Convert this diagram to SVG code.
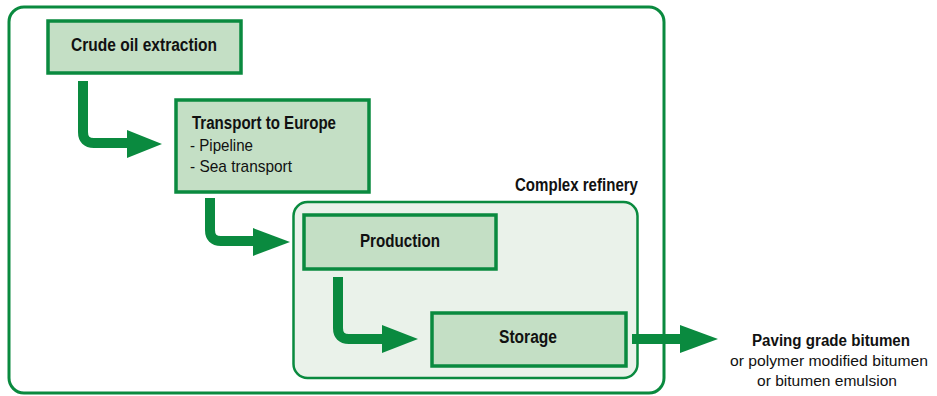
<svg xmlns="http://www.w3.org/2000/svg" width="937" height="396" viewBox="0 0 937 396">
<style>
text{font-family:"Liberation Sans",Arial,sans-serif;fill:#111;font-size:17px}
.b{font-weight:bold;font-size:18px}
.p{font-size:15.5px}
.pb{font-weight:bold;font-size:16px}
.box{fill:#c4dfc5;stroke:#0a8a3f;stroke-width:3.5}
.conn{fill:none;stroke:#0a8a3f;stroke-width:10}
.head{fill:#0a8a3f}
</style>
<rect width="937" height="396" fill="#fff"/>
<g id="frame"><rect x="9" y="7" width="655" height="386" rx="15" fill="none" stroke="#0a8a3f" stroke-width="3"/></g>
<g id="refinery"><rect x="293.5" y="202" width="344" height="176" rx="14" fill="#eaf2ea" stroke="#0a8a3f" stroke-width="2.5"/>
<text class="b" x="515" y="191" textLength="123" lengthAdjust="spacingAndGlyphs">Complex refinery</text></g>
<g id="crude"><rect class="box" x="48" y="21" width="193" height="52"/><text class="b" x="71" y="51" textLength="146" lengthAdjust="spacingAndGlyphs">Crude oil extraction</text></g>
<g id="transport"><rect class="box" x="176" y="100" width="193" height="92"/>
<text class="b" x="192" y="129" textLength="144" lengthAdjust="spacingAndGlyphs">Transport to Europe</text>
<text x="190" y="151" textLength="63" lengthAdjust="spacingAndGlyphs">- Pipeline</text>
<text x="190" y="172" textLength="102" lengthAdjust="spacingAndGlyphs">- Sea transport</text></g>
<g id="production"><rect class="box" x="304" y="215" width="192" height="54"/><text class="b" x="360" y="247" textLength="80" lengthAdjust="spacingAndGlyphs">Production</text></g>
<g id="storage"><rect class="box" x="432" y="313" width="194" height="53"/><text class="b" x="499" y="343" textLength="58" lengthAdjust="spacingAndGlyphs">Storage</text></g>
<g id="product"><text class="pb" x="752" y="346" textLength="158" lengthAdjust="spacingAndGlyphs">Paving grade bitumen</text>
<text class="p" x="730" y="366" textLength="198" lengthAdjust="spacingAndGlyphs">or polymer modified bitumen</text>
<text class="p" x="757" y="386" textLength="140" lengthAdjust="spacingAndGlyphs">or bitumen emulsion</text></g>
<g id="connectors">
<path class="conn" d="M83 81 V132 Q83 143 94 143 H130"/>
<polygon class="head" points="127,130 162,144 127,158"/>
<path class="conn" d="M210 198 V230 Q210 241 221 241 H256"/>
<polygon class="head" points="253,228 290,242 253,256"/>
<path class="conn" d="M338 277 V328 Q338 339 349 339 H385"/>
<polygon class="head" points="382,325 418,339 382,353"/>
<path class="conn" d="M632 339 H683"/>
<polygon class="head" points="680,325 718,339 680,353"/>
</g>
</svg>
